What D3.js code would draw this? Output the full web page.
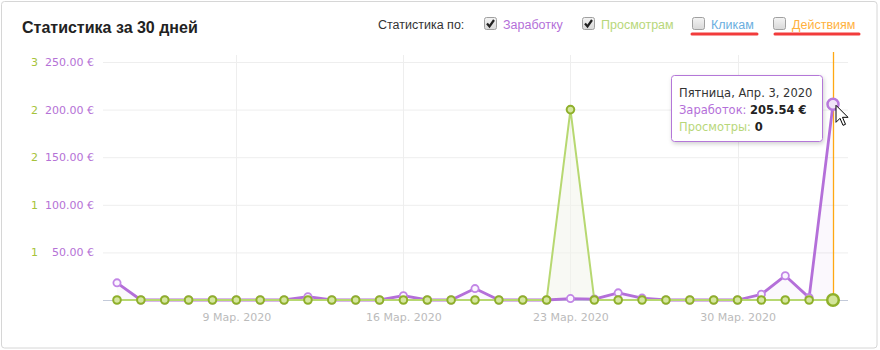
<!DOCTYPE html>
<html>
<head>
<meta charset="utf-8">
<script src="https://cdn.jsdelivr.net/npm/d3@7"></script>
<style>
  body { margin: 0; background: #fff; }
  svg { display: block; }
</style>
</head>
<body>
<div id="chart"></div>
<script>
// data: 31 days, Mar 4 .. Apr 3 2020
const startDate = new Date(Date.UTC(2020, 2, 4));
const earnings = [18, 0, 0, 0, 0, 0, 0, 0, 3.5, 0, 0, 0, 4.5, 0, 0, 12, 0, 0, 0, 1.5, 1, 7.5, 2, 0, 0, 0, 0, 6, 25.5, 2.5, 205.54];
const views = [0, 0, 0, 0, 0, 0, 0, 0, 0, 0, 0, 0, 0, 0, 0, 0, 0, 0, 0, 2, 0, 0, 0, 0, 0, 0, 0, 0, 0, 0, 0];
const earnTicks = [50, 100, 150, 200, 250];
const viewTicks = [0.5, 1, 1.5, 2, 2.5];
const dateTicks = [9, 16, 23, 30].map(d => new Date(Date.UTC(2020, 2, d)));
const legendItems = ["Заработку", "Просмотрам", "Кликам", "Действиям"];
const monthsRu = ["Янв.", "Февр.", "Мар.", "Апр.", "Май", "Июн.", "Июл.", "Авг.", "Сент.", "Окт.", "Нояб.", "Дек."];

const days = d3.range(earnings.length).map(i => d3.utcDay.offset(startDate, i));
const last = days.length - 1;

const W = 880, H = 350;
const purple = "#b46fd9", greenDark = "#8fb02b";

const svg = d3.select("#chart").append("svg").attr("width", W).attr("height", H)
  .style("font-family", "'DejaVu Sans', Verdana, sans-serif");

const defs = svg.append("defs");
const sh = defs.append("filter").attr("id", "shadow").attr("x", "-20%").attr("y", "-20%").attr("width", "140%").attr("height", "150%");
sh.append("feDropShadow").attr("dx", 1).attr("dy", 2).attr("stdDeviation", 2).attr("flood-color", "#000").attr("flood-opacity", 0.18);
const cb = defs.append("linearGradient").attr("id", "cbg").attr("x1", 0).attr("y1", 0).attr("x2", 0).attr("y2", 1);
cb.append("stop").attr("offset", "0%").attr("stop-color", "#f4f4f4");
cb.append("stop").attr("offset", "100%").attr("stop-color", "#d8d8d8");

// card
svg.append("rect").attr("x", 1.5).attr("y", 1.5).attr("width", W - 4.5).attr("height", H - 3.5)
  .attr("rx", 3).attr("fill", "#fff").attr("stroke", "#d6d6d6");

svg.append("text").attr("x", 22).attr("y", 33)
  .style("font-family", "'Liberation Sans', Arial, sans-serif").style("font-weight", "bold")
  .style("font-size", "16px").attr("fill", "#222").text("Статистика за 30 дней");

// legend
const lg = svg.append("g").style("font-family", "'Liberation Sans', Arial, sans-serif").style("font-size", "12.5px");
lg.append("text").attr("x", 378).attr("y", 29).attr("fill", "#333").text("Статистика по:");
const legendX = [484, 582, 692, 773];
const legendColors = [purple, "#b8d77a", "#6aaee0", "#ffb13d"];
const legendChecked = [true, true, false, false];
legendItems.forEach((name, i) => {
  const g = lg.append("g").attr("transform", `translate(${legendX[i]},17)`);
  g.append("rect").attr("x", 0.5).attr("y", 0.5).attr("width", 12).attr("height", 12).attr("rx", 2)
    .attr("fill", "url(#cbg)").attr("stroke", "#a0a0a0");
  if (legendChecked[i]) {
    g.append("path").attr("d", "M3,6.5 L5.5,9.5 L10,3").attr("fill", "none")
      .attr("stroke", "#222").attr("stroke-width", 2.2);
  }
  g.append("text").attr("x", 19).attr("y", 12).attr("fill", legendColors[i]).text(name);
});
// red underlines
[[692, 757], [775, 859]].forEach(([a, b]) => {
  svg.append("line").attr("x1", a).attr("x2", b).attr("y1", 34).attr("y2", 34)
    .attr("stroke", "#f23b3b").attr("stroke-width", 3).attr("stroke-linecap", "round");
});

// scales
const x = d3.scaleUtc().domain([days[0], days[last]]).range([117, 833]);
const yE = d3.scaleLinear().domain([0, 250]).range([300, 62]);
const yV = d3.scaleLinear().domain([0, 2.5]).range([300, 62]);
const plotL = 103, plotR = 848;

// gridlines
svg.append("g").selectAll("line").data(earnTicks).join("line")
  .attr("x1", plotL).attr("x2", plotR).attr("y1", d => yE(d) + 0.5).attr("y2", d => yE(d) + 0.5)
  .attr("stroke", "#eeeeee");
svg.append("g").selectAll("line").data(dateTicks).join("line")
  .attr("x1", d => Math.round(x(d)) + 0.5).attr("x2", d => Math.round(x(d)) + 0.5)
  .attr("y1", 55).attr("y2", 300).attr("stroke", "#eeeeee");

// y axis labels
const yAxisE = svg.append("g").attr("transform", `translate(94,0)`)
  .call(d3.axisLeft(yE).tickValues(earnTicks).tickSize(0).tickPadding(0).tickFormat(d => d3.format(".2f")(d) + " €"));
yAxisE.select(".domain").remove();
yAxisE.selectAll("text").attr("fill", "#b572d6").style("font-size", "11px").style("font-family", "'DejaVu Sans', Verdana, sans-serif");
const yAxisV = svg.append("g").attr("transform", `translate(38,0)`)
  .call(d3.axisLeft(yV).tickValues(viewTicks).tickSize(0).tickPadding(0).tickFormat(d => Math.round(d)));
yAxisV.select(".domain").remove();
yAxisV.selectAll("text").attr("fill", "#a6c33a").style("font-size", "11px").style("font-family", "'DejaVu Sans', Verdana, sans-serif");

// x axis labels
const xAxis = svg.append("g").attr("transform", "translate(0,300)")
  .call(d3.axisBottom(x).tickValues(dateTicks).tickSize(0).tickPadding(13)
    .tickFormat(d => `${d.getUTCDate()} ${monthsRu[d.getUTCMonth()]} ${d.getUTCFullYear()}`));
xAxis.select(".domain").remove();
xAxis.selectAll("text").attr("fill", "#bbbbbb").style("font-size", "11px").style("font-family", "'DejaVu Sans', Verdana, sans-serif");

// areas
svg.append("path").datum(days)
  .attr("d", d3.area().x(d => x(d)).y0(300).y1((d, i) => yV(views[i])))
  .attr("fill", "#f2f4ea").attr("opacity", 0.5);
svg.append("path").datum(days)
  .attr("d", d3.area().x(d => x(d)).y0(300).y1((d, i) => yE(earnings[i])))
  .attr("fill", "#b46fd9").attr("opacity", 0.05);

// baseline
svg.append("line").attr("x1", plotL).attr("x2", plotR).attr("y1", 300.5).attr("y2", 300.5).attr("stroke", "#c3cad9");

// crosshair
svg.append("line").attr("x1", Math.round(x(days[last])) + 0.5).attr("x2", Math.round(x(days[last])) + 0.5)
  .attr("y1", 52).attr("y2", 300)
  .attr("stroke", "#ffa812").attr("stroke-width", 1.3);

// earnings line
svg.append("path").datum(days)
  .attr("d", d3.line().x(d => x(d)).y((d, i) => yE(earnings[i])))
  .attr("fill", "none").attr("stroke", purple).attr("stroke-width", 2.8).attr("stroke-linejoin", "round");
svg.append("g").selectAll("circle").data(days.slice(0, last)).join("circle")
  .attr("cx", d => x(d)).attr("cy", (d, i) => yE(earnings[i])).attr("r", 3.6)
  .attr("fill", "#fbf6ff").attr("stroke", "#c286e6").attr("stroke-width", 1.8);

// views line
svg.append("path").datum(days)
  .attr("d", d3.line().x(d => x(d)).y((d, i) => yV(views[i])))
  .attr("fill", "none").attr("stroke", "#b7d871").attr("stroke-width", 2);
svg.append("g").selectAll("circle").data(days.slice(0, last)).join("circle")
  .attr("cx", d => x(d)).attr("cy", (d, i) => yV(views[i])).attr("r", 3.8)
  .attr("fill", "#d5e6a0").attr("stroke", greenDark).attr("stroke-width", 2);

// hovered points
svg.append("circle").attr("cx", x(days[last])).attr("cy", yV(views[last])).attr("r", 5.8)
  .attr("fill", "#d3e59b").attr("stroke", greenDark).attr("stroke-width", 2.5);
svg.append("circle").attr("cx", x(days[last])).attr("cy", yE(earnings[last])).attr("r", 5.5)
  .attr("fill", "#f0e4f8").attr("stroke", "#b879dc").attr("stroke-width", 2.5);

// cursor
const cx0 = x(days[last]) + 3, cy0 = yE(earnings[last]) + 1;
svg.append("path")
  .attr("d", `M${cx0},${cy0} l0,17 l4,-4 l3,7 l2.5,-1 l-3,-7 l5.5,0 z`)
  .attr("fill", "#fff").attr("stroke", "#000").attr("stroke-width", 1).attr("stroke-linejoin", "round");

// tooltip
const tt = svg.append("g").attr("transform", "translate(671,75)");
tt.append("rect").attr("x", 0.5).attr("y", 0.5).attr("width", 151).attr("height", 66).attr("rx", 3)
  .attr("fill", "#fff").attr("stroke", "#b477d8").attr("filter", "url(#shadow)");
const ttFont = "'DejaVu Sans', Verdana, sans-serif";
tt.append("text").attr("x", 8).attr("y", 22).style("font-size", "11.5px").style("font-family", ttFont)
  .attr("fill", "#333").text("Пятница, Апр. 3, 2020");
const t2 = tt.append("text").attr("x", 8).attr("y", 39).style("font-size", "11.5px").style("font-family", ttFont);
t2.append("tspan").attr("fill", purple).text("Заработок: ");
t2.append("tspan").attr("fill", "#222").style("font-weight", "bold").text(d3.format(".2f")(earnings[last]) + " €");
const t3 = tt.append("text").attr("x", 8).attr("y", 56).style("font-size", "11.5px").style("font-family", ttFont);
t3.append("tspan").attr("fill", "#b8d77a").text("Просмотры: ");
t3.append("tspan").attr("fill", "#222").style("font-weight", "bold").text(views[last]);
</script>
</body>
</html>
